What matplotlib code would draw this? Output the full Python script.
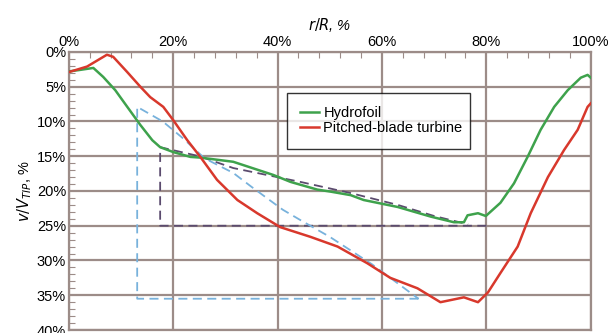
import matplotlib
matplotlib.use('Agg')
from matplotlib import pyplot as plt
from matplotlib.ticker import MultipleLocator, FuncFormatter

plt.rcParams['font.family'] = ['Liberation Sans Narrow', 'Liberation Sans', 'DejaVu Sans']

# Hydrofoil (green)
hyd_r = [0, 2, 4.7, 6.6, 8.9, 11.2, 13.7, 16, 17.5, 20, 23.3, 25.2, 31.5, 39.2, 42.5,
         47.6, 50.2, 54, 56.5, 63, 69.4, 73.8, 75.7, 76.4, 78.4, 79.9, 82.7, 85.3,
         87.9, 90.4, 93, 95.6, 98.1, 99.4, 100]
hyd_v = [2.8, 2.6, 2.3, 3.6, 5.5, 7.9, 10.5, 12.7, 13.7, 14.4, 15.1, 15.2, 15.8, 17.7, 18.7,
         19.8, 20.1, 20.6, 21.3, 22.3, 23.7, 24.5, 24.5, 23.5, 23.2, 23.6, 21.7, 18.9,
         15.1, 11.2, 7.9, 5.5, 3.7, 3.3, 3.7]

# Pitched-blade turbine (red)
pbt_r = [0, 3.5, 7.3, 8.5, 11.2, 13.7, 15.6, 18.1, 20, 22.7, 25.2, 28.4, 32.3, 36.1,
         40.5, 46.3, 51.5, 57.2, 61.6, 66.8, 71.2, 75.7, 78.4, 80.3, 82.7, 86, 88.5,
         91.8, 94.9, 97.5, 99.4, 100]
pbt_v = [2.9, 2.1, 0.4, 0.7, 2.9, 5.0, 6.5, 7.9, 9.8, 12.7, 15.1, 18.4, 21.3, 23.2,
         25.2, 26.6, 28.0, 30.4, 32.5, 34.0, 36.0, 35.3, 36.0, 34.6, 31.8, 28.0, 23.2,
         18.0, 14.1, 11.2, 7.9, 7.4]

# model outlines (dashed)
dark_r = [80, 17.5, 17.5, 25, 31.5, 44.4, 54, 63, 70, 76.5]
dark_v = [25, 25, 13.7, 15.0, 16.7, 18.7, 20.3, 22.0, 23.6, 24.8]
blue_r = [67, 13.1, 13.1, 18, 22, 26, 31.5, 35, 41, 44.4, 50, 58, 67]
blue_v = [35.5, 35.5, 7.9, 10.0, 12.5, 15.3, 17.4, 19.4, 22.7, 24.2, 26.6, 30.5, 35.5]

x_ticks = [0, 20, 40, 60, 80, 100]
y_ticks = [0, 5, 10, 15, 20, 25, 30, 35, 40]

grid_c = '#9c8c88'

fig = plt.figure(figsize=(6.09, 3.33), dpi=100)
ax = fig.add_axes([0.113, 0.009, 0.857, 0.835])

ax.plot(dark_r, dark_v, color='#5b4b6e', lw=1.3, dashes=(5, 3), zorder=3)
ax.plot(blue_r, blue_v, color='#78b2dc', lw=1.3, dashes=(5, 3), zorder=3)
ax.plot(hyd_r, hyd_v, color='#3ea24c', lw=1.8, label='Hydrofoil', zorder=4)
ax.plot(pbt_r, pbt_v, color='#d8382c', lw=1.8, label='Pitched-blade turbine', zorder=4)

ax.set_xlim(0, 100)
ax.set_ylim(40, 0)
ax.set_xticks(x_ticks)
ax.set_yticks(y_ticks)
ax.yaxis.set_minor_locator(MultipleLocator(1))
ax.xaxis.set_minor_locator(MultipleLocator(4))
pct = FuncFormatter(lambda v, p: '%d%%' % v)
ax.xaxis.set_major_formatter(pct)
ax.yaxis.set_major_formatter(pct)
ax.xaxis.tick_top()
ax.xaxis.set_label_position('top')
ax.tick_params(axis='both', which='major', length=0, labelsize=10.5, pad=2)
ax.tick_params(axis='both', which='minor', direction='in', length=4, color=grid_c, width=0.8)
ax.grid(True, which='major', color=grid_c, lw=1.6, zorder=1)
for s in ax.spines.values():
    s.set_color(grid_c)
    s.set_linewidth(1.6)

ax.set_xlabel('$r/R$, %', fontsize=10.5, style='italic', labelpad=4)
ax.set_ylabel('$v/V_{TIP}$, %', fontsize=10.5, labelpad=2)

leg = ax.legend(loc='upper left', bbox_to_anchor=(0.418, 0.647, 0.35, 0.206), mode='expand',
                fontsize=10.5, frameon=True, fancybox=False, borderpad=0.9,
                handlelength=1.3, handletextpad=0.3, labelspacing=0.1, borderaxespad=0)
leg.get_frame().set_edgecolor('black')
leg.get_frame().set_linewidth(1.0)
leg.set_zorder(5)

fig.savefig('out.png', dpi=100)
